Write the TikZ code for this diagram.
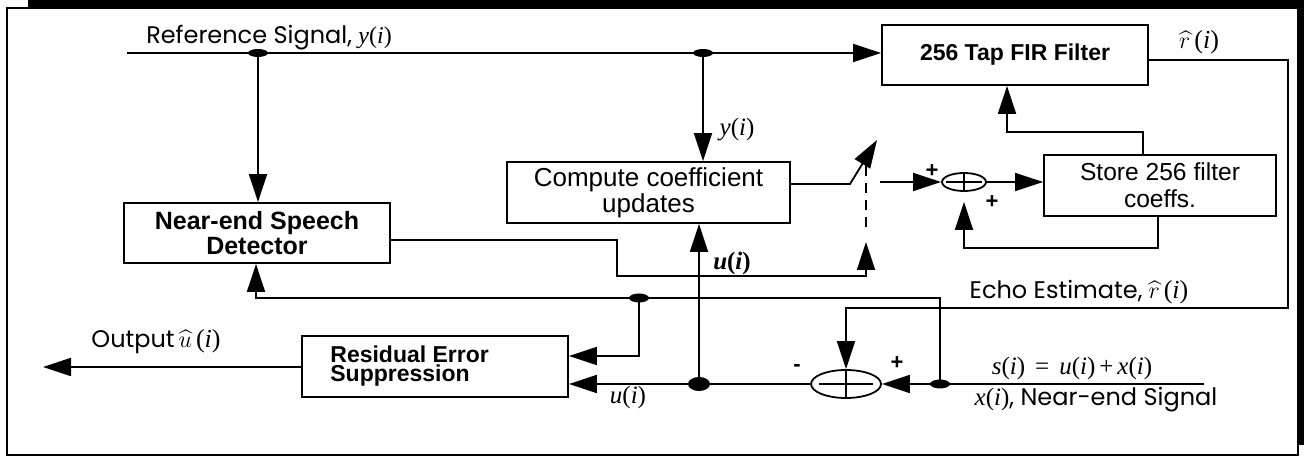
\documentclass[tikz,border=0pt]{standalone}
\usepackage[no-math]{fontspec}
\usepackage{amsmath}
\setmainfont{Poppins}
\newfontfamily\helv{Liberation Sans}
\newfontfamily\tms{Liberation Serif}
\usetikzlibrary{arrows.meta,shapes.geometric,calc}
% signal names such as y(i), set in a Times-like italic
\newcommand\vr[1]{{\tms\itshape #1\/}}
\newcommand\sgl[1]{\vr{#1}{\tms(}\vr{i}{\tms)}}
\newcommand\hsg[1]{$\widehat{#1}$\kern2pt{\tms(}\vr{i}{\tms)}}

\begin{document}
\begin{tikzpicture}[x=0.5pt,y=-0.5pt,
  wire/.style={line width=0.9pt},
  flow/.style={wire,-{Triangle[length=14pt,width=9pt]}},
  box/.style={draw,line width=0.9pt,inner sep=0pt,align=center},
  sumnode/.style={draw,ellipse,line width=0.9pt,inner sep=0pt},
  dot/.style={fill,ellipse,inner sep=0pt},
  lbl/.style={inner sep=0pt,font=\fontsize{12}{14}\selectfont},
  sign/.style={inner sep=0pt,font=\helv\bfseries\fontsize{11}{12}\selectfont},
]
\useasboundingbox (0,0) rectangle (1304,458);

% framed panel with its offset shadow
\fill[black] (28,0) rectangle (1304,445);
\draw[line width=1pt,fill=white] (7,8) rectangle (1298,455);

% processing blocks
\node[box,font=\helv\bfseries\fontsize{12.5}{11}\selectfont,minimum width=133pt,minimum height=30pt] (ned) at (257,233) {Near-end Speech\\Detector};
\node[box,font=\helv\fontsize{13}{11.5}\selectfont,minimum width=141.5pt,minimum height=30.5pt] (ccu) at (648.5,192.5) {Compute coefficient\\updates};
\node[box,font=\helv\bfseries\fontsize{11.5}{13}\selectfont,minimum width=133pt,minimum height=30pt] (fir) at (1015,55) {256 Tap FIR Filter};
\node[box,font=\helv\fontsize{12.3}{13.5}\selectfont,minimum width=116pt,minimum height=30.5pt] (store) at (1160,185.5) {Store 256 filter\\coeffs.};
\node[box,minimum width=133pt,minimum height=30.5pt] (res) at (435,366.5) {};
\node[anchor=west,align=left,inner sep=0pt,font=\helv\bfseries\fontsize{11.5}{9.5}\selectfont] (restxt) at (330,366) {Residual Error\\Suppression};

% summing junctions
\node[sumnode,minimum width=22pt,minimum height=9pt] (sa) at (964,182) {};
\draw[line width=0.8pt] ($(sa.west)+(5,0)$) -- ($(sa.east)-(5,0)$);
\draw[line width=0.8pt] ($(sa.north)+(0,2)$) -- ($(sa.south)-(0,2)$);
\node[sumnode,minimum width=35pt,minimum height=14pt] (ba) at (846,384) {};
\draw[line width=0.8pt] ($(ba.west)+(9,0)$) -- ($(ba.east)-(9,0)$);
\draw[line width=0.8pt] (ba.north) -- (ba.south);

% branch points
\node[dot,minimum width=10pt,minimum height=4pt] (j1) at (258,53) {};
\node[dot,minimum width=10pt,minimum height=4pt] (j2) at (703,53) {};
\node[dot,minimum width=10pt,minimum height=4.5pt] (j3) at (639,298) {};
\node[dot,minimum width=10pt,minimum height=4.5pt] (j4) at (940,384) {};
\node[dot,minimum width=11pt,minimum height=7pt] (j5) at (699,384) {};

% route points
\coordinate (refin) at (127,53);
\coordinate (swpivot) at (850,184);
\coordinate (swtip) at (877,140);
\coordinate (dashtop) at (866,166);
\coordinate (dashbot) at (866,230);
\coordinate (nsdA) at (617,240);
\coordinate (nsdB) at (617,276);
\coordinate (nsdC) at (866,276);
\coordinate (nsdtip) at (866,242);
\coordinate (ain) at (880,182);
\coordinate (fbA) at (1158,248);
\coordinate (upA) at (1143,132);
\coordinate (upB) at (1007,132);
\coordinate (fo1) at (1288,60);
\coordinate (fo2) at (1288,308);
\coordinate (sin) at (1204,384);
\coordinate (fbn1) at (940,298);
\coordinate (fbn2) at (256,298);
\coordinate (r1) at (639,356);
\coordinate (out) at (43,367);

% reference path
\draw[flow] (refin) -- (refin -| fir.west);
\draw[flow] (j1.center) -- (j1.center |- ned.north);
\draw[flow] (j2.center) -- (j2.center |- ccu.north);

% update switch
\draw[flow] (ccu.east |- swpivot) -- (swpivot) -- (swtip);
\draw[line width=1pt,dash pattern=on 5pt off 3.5pt] (dashtop) -- (dashbot);
\draw[flow] (ned.east |- nsdA) -- (nsdA) -- (nsdB) -- (nsdC) -- (nsdtip);

% coefficient accumulator
\draw[flow] (ain) -- (sa.west);
\draw[flow] (sa.east) -- (sa.east -| store.west);
\draw[flow,shorten >=5pt] (store.south -| fbA) -- (fbA) -| (sa.south);
\draw[flow] (store.north -| upA) -- (upA) -- (upB) -- (upB |- fir.south);

% echo estimate
\draw[flow] (fir.east |- fo1) -- (fo1) -- (fo2) -| (ba.north);

% near-end signal and error paths
\draw[wire] (sin) -- (j4.center);
\draw[flow] (j4.center) -- (ba.east);
\draw[flow] (j4.center) -- (fbn1) -- (fbn2) -- (fbn2 |- ned.south);
\draw[flow] (j3.center) -- (r1) -- (r1 -| res.east);
\draw[wire] (ba.west) -- (j5.center);
\draw[flow] (j5.center) -- (j5.center -| res.east);
\draw[flow] (j5.center) -- (j5.center |- ccu.south);
\draw[flow] (res.west |- out) -- (out);

% labels
\node[lbl] (lref) at (269,38) {Reference Signal, \sgl{y}};
\node[lbl,font=\fontsize{12.5}{14}\selectfont] (ly) at (737,130) {\sgl{y}};
\node[lbl,font=\fontsize{13}{14}\selectfont] (lrhat) at (1199,42) {\hsg{r}};
\node[sign] (lp1) at (932,171) {+};
\node[sign] (lp2) at (992,202) {+};
\node[lbl,font=\fontsize{12.5}{14}\selectfont\bfseries] (lu1) at (732,263) {{\tms\bfseries\itshape u}{\tms\bfseries(}{\tms\bfseries\itshape i}{\tms\bfseries)}};
\node[lbl] (lecho) at (1079,292) {Echo Estimate,\kern3pt{\fontsize{13}{14}\selectfont\hsg{r}}};
\node[sign] (lm) at (797,368) {-};
\node[sign] (lp3) at (897,363) {+};
\node[lbl,font=\fontsize{12.5}{14}\selectfont] (ls) at (1072,368) {\sgl{s}\kern5pt{\tms=}\kern5pt\sgl{u}\kern2pt{\tms+}\kern2pt\sgl{x}};
\node[lbl,font=\fontsize{12}{14}\selectfont] (lx) at (1096,400) {{\fontsize{12.5}{14}\selectfont\sgl{x}}, Near-end Signal};
\node[lbl,font=\fontsize{12.5}{14}\selectfont] (lu2) at (628,397) {\sgl{u}};
\node[lbl] (lout) at (156,342) {Output\kern2pt{\fontsize{13}{14}\selectfont\hsg{u}}};
\end{tikzpicture}
\end{document}
